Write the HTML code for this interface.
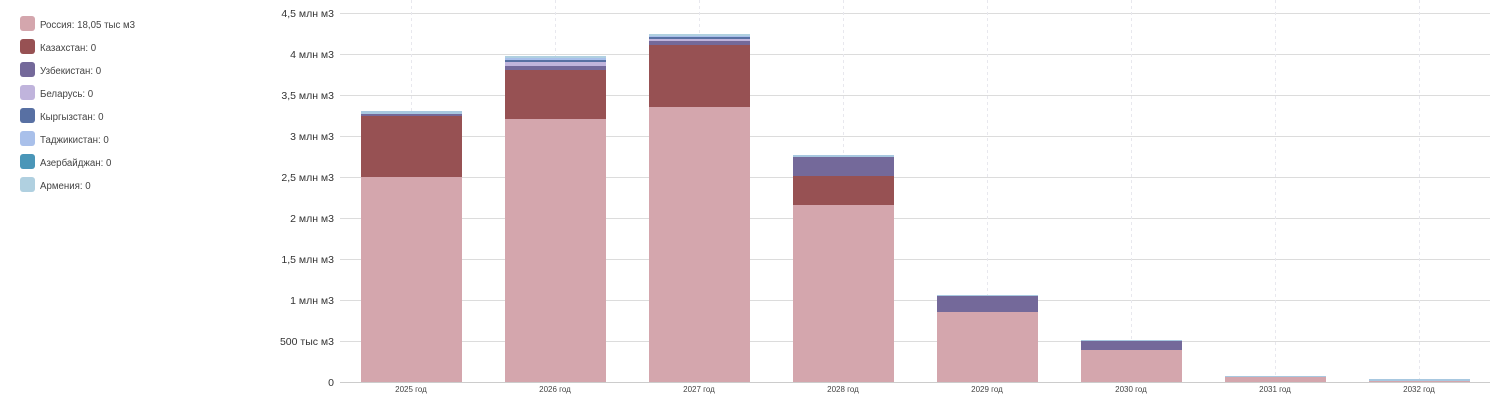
<!DOCTYPE html>
<html><head><meta charset="utf-8"><style>
body{margin:0;background:#fff;}
svg{display:block;font-family:"Segoe UI","Liberation Sans","DejaVu Sans",sans-serif;}
</style></head><body>
<svg width="1509" height="409" xmlns="http://www.w3.org/2000/svg">
<g stroke="#dcdcdc" stroke-width="1">
<line x1="340" x2="1490" y1="13.5" y2="13.5"/>
<line x1="340" x2="1490" y1="54.5" y2="54.5"/>
<line x1="340" x2="1490" y1="95.5" y2="95.5"/>
<line x1="340" x2="1490" y1="136.5" y2="136.5"/>
<line x1="340" x2="1490" y1="177.5" y2="177.5"/>
<line x1="340" x2="1490" y1="218.5" y2="218.5"/>
<line x1="340" x2="1490" y1="259.5" y2="259.5"/>
<line x1="340" x2="1490" y1="300.5" y2="300.5"/>
<line x1="340" x2="1490" y1="341.5" y2="341.5"/>
</g>
<g stroke="#e8e8ee" stroke-dasharray="3,3">
<line x1="411.5" x2="411.5" y1="0" y2="382"/><line x1="555.5" x2="555.5" y1="0" y2="382"/>
<line x1="699.5" x2="699.5" y1="0" y2="382"/><line x1="843.5" x2="843.5" y1="0" y2="382"/>
<line x1="987.5" x2="987.5" y1="0" y2="382"/><line x1="1131.5" x2="1131.5" y1="0" y2="382"/>
<line x1="1275.5" x2="1275.5" y1="0" y2="382"/><line x1="1419.5" x2="1419.5" y1="0" y2="382"/>
</g>
<g font-size="10.5" fill="#333" text-anchor="end">
<text x="334" y="17">4,5 млн м3</text><text x="334" y="58">4 млн м3</text>
<text x="334" y="99">3,5 млн м3</text><text x="334" y="140">3 млн м3</text>
<text x="334" y="181">2,5 млн м3</text><text x="334" y="222">2 млн м3</text>
<text x="334" y="263">1,5 млн м3</text><text x="334" y="304">1 млн м3</text>
<text x="334" y="345">500 тыс м3</text><text x="334" y="386">0</text>
</g>
<g>
<rect x="361" y="111" width="101" height="3" fill="#a8c8e0"/>
<rect x="361" y="114" width="101" height="2" fill="#74699a"/>
<rect x="361" y="116" width="101" height="61" fill="#975153"/>
<rect x="361" y="177" width="101" height="205" fill="#d4a6ad"/>

<rect x="505" y="56" width="101" height="2" fill="#b0d0e0"/>
<rect x="505" y="58" width="101" height="2" fill="#a9c0ea"/>
<rect x="505" y="60" width="101" height="2" fill="#5870a3"/>
<rect x="505" y="62" width="101" height="4" fill="#c0b4dc"/>
<rect x="505" y="66" width="101" height="4" fill="#74699a"/>
<rect x="505" y="70" width="101" height="49" fill="#975153"/>
<rect x="505" y="119" width="101" height="263" fill="#d4a6ad"/>

<rect x="649" y="34" width="101" height="2" fill="#b0d0e0"/>
<rect x="649" y="36" width="101" height="1" fill="#a9c0ea"/>
<rect x="649" y="37" width="101" height="2" fill="#5870a3"/>
<rect x="649" y="39" width="101" height="2" fill="#c0b4dc"/>
<rect x="649" y="41" width="101" height="4" fill="#74699a"/>
<rect x="649" y="45" width="101" height="62" fill="#975153"/>
<rect x="649" y="107" width="101" height="275" fill="#d4a6ad"/>

<rect x="793" y="155" width="101" height="2" fill="#a8c8e0"/>
<rect x="793" y="157" width="101" height="19" fill="#74699a"/>
<rect x="793" y="176" width="101" height="29" fill="#975153"/>
<rect x="793" y="205" width="101" height="177" fill="#d4a6ad"/>

<rect x="937" y="295" width="101" height="1" fill="#a8c8e0"/>
<rect x="937" y="296" width="101" height="16" fill="#74699a"/>
<rect x="937" y="312" width="101" height="70" fill="#d4a6ad"/>

<rect x="1081" y="340" width="101" height="1" fill="#a8c8e0"/>
<rect x="1081" y="341" width="101" height="9" fill="#74699a"/>
<rect x="1081" y="350" width="101" height="32" fill="#d4a6ad"/>

<rect x="1225" y="376" width="101" height="1" fill="#a8c8e0"/>
<rect x="1225" y="377" width="101" height="5" fill="#d4a6ad"/>

<rect x="1369" y="379" width="101" height="2" fill="#a8c8e0"/>
<rect x="1369" y="381" width="101" height="1" fill="#d4a6ad"/>
</g>
<line x1="340" x2="1490" y1="382.5" y2="382.5" stroke="#ccc"/>
<g font-size="8" fill="#444" text-anchor="middle">
<text x="411" y="392">2025 год</text><text x="555" y="392">2026 год</text>
<text x="699" y="392">2027 год</text><text x="843" y="392">2028 год</text>
<text x="987" y="392">2029 год</text><text x="1131" y="392">2030 год</text>
<text x="1275" y="392">2031 год</text><text x="1419" y="392">2032 год</text>
</g>
<g font-size="9.7" fill="#444">
<rect x="20" y="16" width="15" height="15" rx="3" fill="#d4a6ad"/><text x="40" y="28">Россия: 18,05 тыс м3</text>
<rect x="20" y="39" width="15" height="15" rx="3" fill="#975153"/><text x="40" y="51">Казахстан: 0</text>
<rect x="20" y="62" width="15" height="15" rx="3" fill="#74699a"/><text x="40" y="74">Узбекистан: 0</text>
<rect x="20" y="85" width="15" height="15" rx="3" fill="#c0b4dc"/><text x="40" y="97">Беларусь: 0</text>
<rect x="20" y="108" width="15" height="15" rx="3" fill="#5870a3"/><text x="40" y="120">Кыргызстан: 0</text>
<rect x="20" y="131" width="15" height="15" rx="3" fill="#a9c0ea"/><text x="40" y="143">Таджикистан: 0</text>
<rect x="20" y="154" width="15" height="15" rx="3" fill="#4a96b8"/><text x="40" y="166">Азербайджан: 0</text>
<rect x="20" y="177" width="15" height="15" rx="3" fill="#b0d0e0"/><text x="40" y="189">Армения: 0</text>
</g>
</svg>
</body></html>
